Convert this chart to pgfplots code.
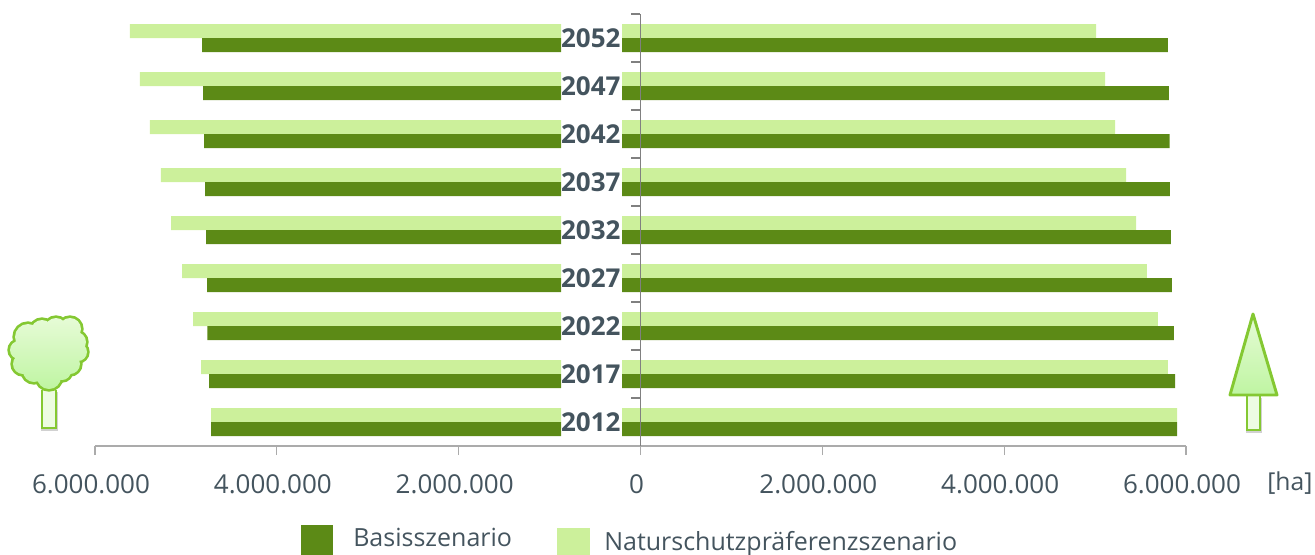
\documentclass[border=0pt]{standalone}
\usepackage{fontspec}
\setmainfont{Open Sans}
\usepackage{pgfplots}
\usepackage{pgfplotstable}
\pgfplotsset{compat=1.18}
\usetikzlibrary{shadings}
\definecolor{darkbar}{HTML}{5C8A16}
\definecolor{lightbar}{HTML}{CCF09B}
\definecolor{txt}{HTML}{44545E}
\definecolor{treeline}{HTML}{84C832}
\definecolor{treetop}{HTML}{E6FBD6}
\definecolor{treebot}{HTML}{BFF5A2}
\pgfplotstableread{
pos year basisL naturL basisR naturR
0 2012 4723000 4723000 5901000 5901000
1 2017 4745000 4833000 5879000 5802000
2 2022 4762000 4921000 5868000 5692000
3 2027 4767000 5042000 5846000 5571000
4 2032 4778000 5163000 5835000 5451000
5 2037 4789000 5274000 5824000 5341000
6 2042 4800000 5395000 5819000 5220000
7 2047 4811000 5505000 5813000 5110000
8 2052 4822000 5615000 5802000 5011000
}\data
\pgfplotsset{
  barax/.style={hide axis, scale only axis, anchor=south west,
    height=324pt, ymin=-0.5, ymax=8.5, clip=false,
    xbar, bar width=10.5pt},
}
\newcommand{\crownpath}{
  (28,337) circle (13) (42,331) circle (11) (56,329) circle (11) (70,329) circle (11)
  (76,342) circle (10) (78,352) circle (9) (70,364) circle (10) (62,371) circle (9)
  (49,377) circle (12) (34,371) circle (11) (23,364) circle (10) (19,350) circle (9)
  (50,352) circle (24)
}
\begin{document}
\begin{tikzpicture}[x=0.75pt,y=-0.75pt]
\clip (0,0) rectangle (1315,554);
\begin{axis}[barax, at={(71.25pt,-334.5pt)}, width=349.5pt, xmin=-5130000, xmax=0]
  \addplot[draw=none, fill=lightbar, bar shift=5.25pt] table[y=pos, x expr=870000-\thisrow{naturL}] {\data};
  \addplot[draw=none, fill=darkbar, bar shift=-5.25pt] table[y=pos, x expr=870000-\thisrow{basisL}] {\data};
\end{axis}
\begin{axis}[barax, at={(466.5pt,-334.5pt)}, width=423pt, xmin=0, xmax=6198000]
  \addplot[draw=none, fill=lightbar, bar shift=5.25pt] table[y=pos, x expr=198000+\thisrow{naturR}] {\data};
  \addplot[draw=none, fill=darkbar, bar shift=-5.25pt] table[y=pos, x expr=198000+\thisrow{basisR}] {\data};
\end{axis}
\begin{axis}[scale only axis, anchor=south west, at={(71.25pt,-334.5pt)},
    width=818.25pt, height=324pt,
    xmin=-6000000, xmax=6000000, ymin=-0.5, ymax=8.5,
    axis x line=bottom, axis y line=center,
    axis line style={-}, 
    x axis line style={draw=black!33, line width=0.9pt},
    y axis line style={draw=black!50, line width=0.9pt},
    xtick={-6000000,-4000000,-2000000,0,2000000,4000000,6000000},
    xticklabels={6.000.000,4.000.000,2.000.000,0,2.000.000,4.000.000,6.000.000},
    scaled x ticks=false,
    x tick style={draw=black!33, line width=0.9pt},
    tick align=outside,
    major tick length=6.75pt,
    xticklabel style={font=\fontsize{19.5}{22}\selectfont, text=txt, xshift=-3pt, yshift=-11pt},
    ytick={0,...,8},
    yticklabels={2012,2017,2022,2027,2032,2037,2042,2047,2052},
    minor ytick={-0.5,0.5,...,8.5},
    y tick style={draw=none},
    minor y tick style={draw=black!50, line width=0.9pt},
    minor tick length=6.75pt,
    yticklabel style={font=\bfseries\fontsize{19.5}{22}\selectfont, text=txt, anchor=east, xshift=-4.75pt},
    clip=false]
\end{axis}
\node[anchor=base west, text=txt, font=\fontsize{18.5}{22}\selectfont, inner sep=0] at (1267,490) {[ha]};
% legend
\fill[darkbar] (301,525) rectangle (333,560);
\fill[lightbar] (557,528) rectangle (590,560);
\node[anchor=base west, text=txt, font=\fontsize{18.75}{22}\selectfont, inner sep=0] at (353,546) {Basisszenario};
\node[anchor=base west, text=txt, font=\fontsize{18.75}{22}\selectfont, inner sep=0] at (604,550) {Naturschutzpräferenzszenario};
% broadleaf tree
\fill[black!18] (41,392) rectangle (58,431);
\draw[treeline, line width=2.2pt, fill=treetop!70] (42,390) -- (42,428) -- (56,428) -- (56,390);
\draw[treeline, line width=4pt] \crownpath;
\shade[top color=treetop, bottom color=treebot] \crownpath;
% conifer
\fill[black!18] (1246,398) rectangle (1262,433);
\draw[treeline, line width=2.2pt, fill=treetop!70] (1247,395) rectangle (1260,430);
\draw[treeline, line width=2.2pt, top color=treetop, bottom color=treebot, line join=round] (1253,314) -- (1230,395) -- (1277,395) -- cycle;
\end{tikzpicture}
\end{document}
